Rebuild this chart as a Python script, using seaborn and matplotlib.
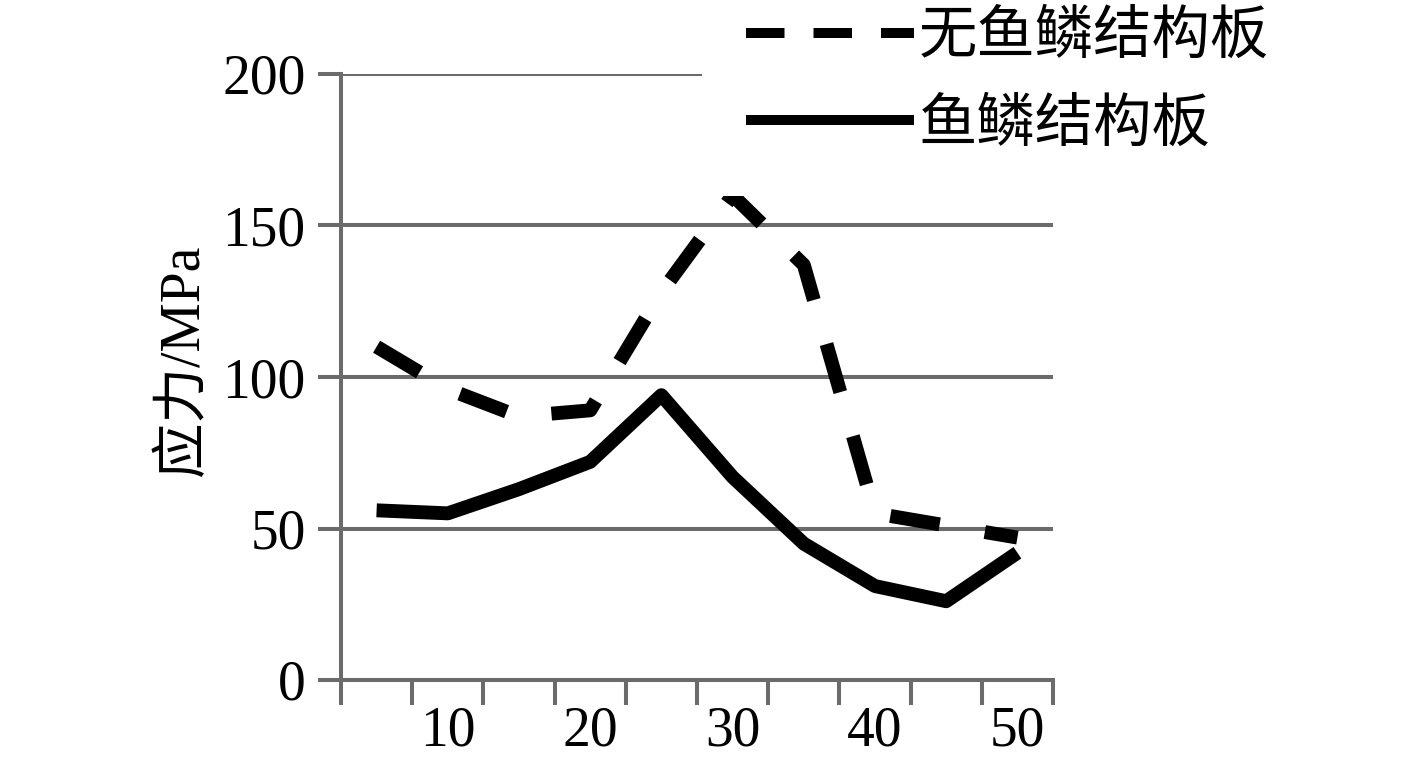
import matplotlib
matplotlib.use("Agg")
import matplotlib.pyplot as plt
from matplotlib.lines import Line2D
import seaborn as sns
import pandas as pd
import numpy as np

# data
positions = [5, 10, 15, 20, 25, 30, 35, 40, 45, 50]
stress_plain = [110, 96, 87, 89, 128, 160, 137, 55, 51, 47]   # 无鱼鳞结构板
stress_scale = [56, 55, 63, 72, 94, 67, 45, 31, 26, 42]       # 鱼鳞结构板
series_names = ['无鱼鳞结构板', '鱼鳞结构板']
x_labels = [10, 20, 30, 40, 50]
y_ticks = [0, 50, 100, 150, 200]

df = pd.DataFrame({
    'x': positions * 2,
    'stress': stress_plain + stress_scale,
    'type': [series_names[0]] * len(positions) + [series_names[1]] * len(positions),
})

sns.set_style("white")
plt.rcParams['font.family'] = ['Liberation Serif', 'Noto Sans CJK SC', 'DejaVu Sans']
plt.rcParams['text.color'] = 'black'
plt.rcParams['axes.labelcolor'] = 'black'
plt.rcParams['xtick.color'] = 'black'
plt.rcParams['ytick.color'] = 'black'

grey = '#6b6b6b'
W, H = 1417, 760
fig = plt.figure(figsize=(W / 100, H / 100), dpi=100)
ax = fig.add_axes([341 / W, 1 - 680 / H, (1053 - 341) / W, (680 - 74) / H])

sns.lineplot(data=df, x='x', y='stress', style='type', color='black',
             dashes={series_names[0]: (3.6, 3.3), series_names[1]: ''},
             linewidth=10, legend=False, ax=ax, sort=False,
             solid_capstyle='butt', solid_joinstyle='round',
             dash_capstyle='butt', dash_joinstyle='round')

ax.set_xlim(2.5, 52.5)
ax.set_ylim(0, 200)

ax.set_yticks(y_ticks)
ax.set_xticks(x_labels)
ax.set_xticks(np.arange(2.5, 53, 5), minor=True)
ax.tick_params(axis='x', which='major', bottom=True, length=0, pad=18,
               labelsize=40, labelcolor='black')
ax.tick_params(axis='x', which='minor', bottom=True, direction='out', length=18,
               width=2.9, color=grey)
ax.tick_params(axis='y', which='major', left=True, direction='out', length=16.5,
               width=2.9, color=grey, pad=9, labelsize=40, labelcolor='black')

ax.yaxis.grid(True, color=grey, linewidth=2.9)
ax.set_axisbelow(True)
for side in ['top', 'right']:
    ax.spines[side].set_visible(False)
for side in ['left', 'bottom']:
    ax.spines[side].set_color(grey)
    ax.spines[side].set_linewidth(2.9)

ax.set_xlabel('')
ax.set_ylabel('应力/MPa', fontsize=40, color='black')
ax.yaxis.set_label_coords(-(341 - 210) / (1053 - 341), 0.527)

handles = [
    Line2D([], [], color='black', linewidth=7.2, linestyle=(0, (3.85, 2.9)),
           dash_capstyle='butt'),
    Line2D([], [], color='black', linewidth=7.2, solid_capstyle='butt'),
]
leg = ax.legend(handles, series_names, loc='upper left',
                bbox_to_anchor=(673 / W, 1 + 62 / H), bbox_transform=fig.transFigure,
                frameon=True, facecolor='white', edgecolor='none', framealpha=1,
                fontsize=42, handlelength=2.88, handletextpad=0.09,
                labelspacing=0.57, borderpad=0.75)
for t in leg.get_texts():
    t.set_color('black')

plt.savefig('out.png', dpi=100)
